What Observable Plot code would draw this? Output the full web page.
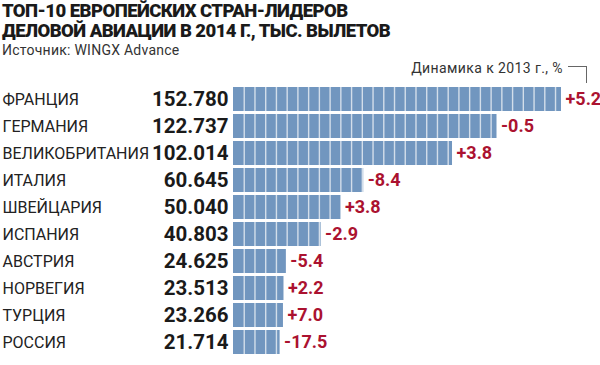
<!DOCTYPE html>
<html><head><meta charset="utf-8">
<script src="https://cdn.jsdelivr.net/npm/d3@7"></script>
<script src="https://cdn.jsdelivr.net/npm/@observablehq/plot@0.6"></script>
<style>
body{margin:0;background:#fff;font-family:Roboto,sans-serif;}
#wrap{position:relative;width:600px;height:365px;overflow:hidden;}
#head{position:relative;height:60px;}
.t{position:absolute;left:2px;font-weight:900;font-size:18.5px;color:#1a1a1a;white-space:nowrap;letter-spacing:-0.55px;line-height:20px;}
.s{position:absolute;left:2px;top:42px;font-size:14px;line-height:17px;color:#333;white-space:nowrap;letter-spacing:0.25px;}
#note{position:absolute;right:37px;top:60px;font-size:14px;color:#333;white-space:nowrap;letter-spacing:0.4px;}
#br{position:absolute;left:568px;top:66px;width:18px;height:16px;border-top:1px solid #666;border-right:1px solid #666;}
</style></head>
<body><div id="wrap">
<div id="head">
<div class="t" style="top:1px">ТОП-10 ЕВРОПЕЙСКИХ СТРАН-ЛИДЕРОВ</div>
<div class="t" style="top:21px">ДЕЛОВОЙ АВИАЦИИ В 2014 Г., ТЫС. ВЫЛЕТОВ</div>
<div class="s">Источник: WINGX Advance</div>
</div>
<div id="note">Динамика к 2013 г., %</div>
<div id="br"></div>
<div id="chart"></div>
</div>
<script>
const countries = ["ФРАНЦИЯ","ГЕРМАНИЯ","ВЕЛИКОБРИТАНИЯ","ИТАЛИЯ","ШВЕЙЦАРИЯ","ИСПАНИЯ","АВСТРИЯ","НОРВЕГИЯ","ТУРЦИЯ","РОССИЯ"];
const flights = [152.780,122.737,102.014,60.645,50.040,40.803,24.625,23.513,23.266,21.714];
const changes = [5.2,-0.5,3.8,-8.4,3.8,-2.9,-5.4,2.2,7.0,-17.5];

const data = countries.map((c,i)=>({country:c, value:flights[i], change:changes[i]}));
const segUnit = 5;
const segs = [];
data.forEach(d=>{ for(let k=segUnit;k<d.value-0.5;k+=segUnit) segs.push({country:d.country, x:k}); });

const fmtChange = v => (v>0?"+":"-") + Math.abs(v).toFixed(1);

const chart = Plot.plot({
  width:600, height:305,
  marginLeft:233, marginRight:39, marginTop:20, marginBottom:4,
  x:{domain:[0,152.78], axis:null},
  y:{domain:countries, axis:null, padding:0.12},
  style:{fontFamily:"Roboto, sans-serif", background:"#fff"},
  marks:[
    Plot.barX(data,{x:"value", y:"country", fill:"#7196bf"}),
    Plot.tickX(segs,{x:"x", y:"country", stroke:"#d3deea", strokeWidth:1.4}),
    Plot.text(data,{y:"country", text:"country", frameAnchor:"left", dx:-231, textAnchor:"start", fontSize:16, fill:"#222"}),
    Plot.text(data,{y:"country", text:d=>d.value.toFixed(3), frameAnchor:"left", dx:-5, textAnchor:"end", fontSize:20.5, fontWeight:700, fill:"#1a1a1a"}),
    Plot.text(data,{x:"value", y:"country", text:d=>fmtChange(d.change), dx:4, textAnchor:"start", fontSize:18, fontWeight:700, fill:"#ab1230"})
  ]
});
document.getElementById("chart").appendChild(chart);
</script>
</body></html>
